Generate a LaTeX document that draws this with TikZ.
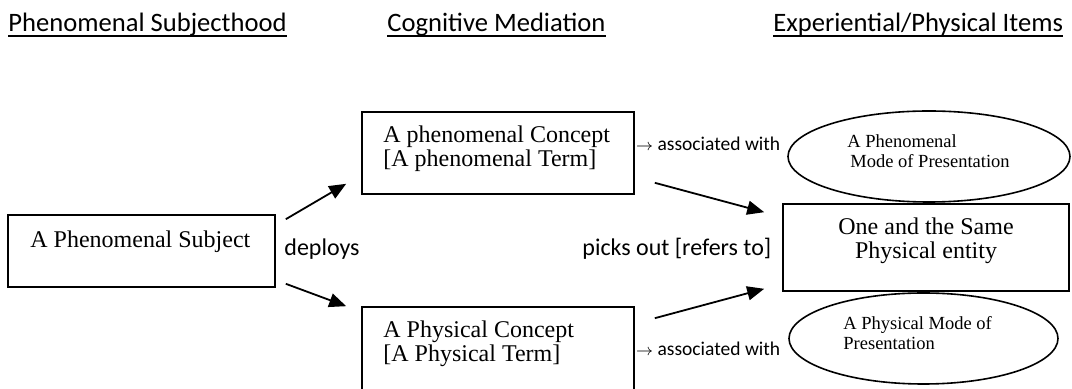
\documentclass[tikz,border=0pt]{standalone}
\usepackage{fontspec}
\setmainfont{Liberation Serif}
\newfontfamily\calfont{Carlito}
\usepackage{tikz}
\usetikzlibrary{calc,arrows.meta,shapes.geometric}

\tikzset{
  box/.style={draw,rectangle,line width=.8pt,inner sep=0pt},
  oval/.style={draw,ellipse,line width=.8pt,inner sep=0pt},
  head/.style={anchor=base west,inner sep=0pt,font=\calfont\fontsize{13.3}{16}\selectfont},
  lbl/.style={anchor=base west,inner sep=0pt,font=\calfont\fontsize{12}{14}\selectfont},
  assoc/.style={anchor=base west,inner sep=0pt,font=\calfont\fontsize{9.75}{12}\selectfont},
  txt/.style={anchor=base west,inner sep=0pt,align=left,font=\fontsize{12}{12}\selectfont},
  smalltxt/.style={anchor=base west,inner sep=0pt,align=left,font=\fontsize{9.25}{10}\selectfont},
  arr/.style={-{Triangle[length=8.5pt,width=7pt]},line width=.9pt}
}

\begin{document}
\begin{tikzpicture}[x=.5pt,y=-.5pt]
      \clip (0,0) rectangle (1072,389);
      \fill[white] (0,0) rectangle (1072,389);
      % column headings
      \node[head] (hsubj) at (8,32) {Phenomenal Subjecthood\ };
      \node[head] (hcog) at (387,32) {Cognitive Mediation};
      \node[head] (hitem) at (773,32) {Experiential/Physical Items};
      \foreach \h in {hsubj,hcog,hitem}
        \draw[line width=1pt] ($(\h.base west)+(0,4)$) -- ($(\h.base east)+(0,4)$);
      % boxes and ovals (multi-line texts sit on their last baseline)
      \draw (141.5,251) node [box,minimum width=133.5pt,minimum height=36pt] (subj) {};
      \node[txt] (subjtxt) at (30,248) {A Phenomenal Subject};
      \draw (498,153) node [box,minimum width=136pt,minimum height=41pt] (phc) {};
      \node[txt] (phctxt) at (383,167) {A phenomenal Concept\\{}[A phenomenal Term]};
      \draw (498,349) node [box,minimum width=136pt,minimum height=42pt] (pyc) {};
      \node[txt] (pyctxt) at (383,362) {A Physical Concept\\{}[A Physical Term]};
      \draw (926,247.5) node [box,minimum width=143pt,minimum height=43.5pt] (same) {};
      \node[txt,anchor=base,align=center] (sametxt) at (926,259) {One and the Same\\Physical entity};
      \draw (929,156.5) node [oval,minimum width=141pt,minimum height=45.5pt] (phmode) {};
      \node[smalltxt] (phmodetxt) at (847,168) {A Phenomenal\\\hspace{1.5pt}Mode of Presentation};
      \draw (923.5,338.5) node [oval,minimum width=134.5pt,minimum height=45.5pt] (pymode) {};
      \node[smalltxt] (pymodetxt) at (843,350) {A Physical Mode of\\Presentation};
      % labels
      \node[lbl] (deploys) at (284,256) {deploys};
      \node[lbl] (picks) at (582,256) {picks out [refers to]};
      \node[assoc] (phassoc) at ($(phc.east)+(1,-2)$) {{\fontsize{8.5}{9}\selectfont$\rightarrow$}\ associated with};
      \node[assoc] (pyassoc) at ($(pyc.east)+(1,7)$) {{\fontsize{8.5}{9}\selectfont$\rightarrow$}\ associated with};
      % arrows
      \draw[arr] ($(subj.north east)+(10,5)$) -- ($(phc.south west)+(-15,-11)$);
      \draw[arr] ($(subj.south east)+(10,-4)$) -- ($(pyc.north west)+(-15,0)$);
      \draw[arr] ($(phc.south east)+(20,-12)$) -- ($(same.north west)+(-18,9)$);
      \draw[arr] ($(pyc.north east)+(20,12)$) -- ($(same.south west)+(-18,-3)$);
\end{tikzpicture}
\end{document}
